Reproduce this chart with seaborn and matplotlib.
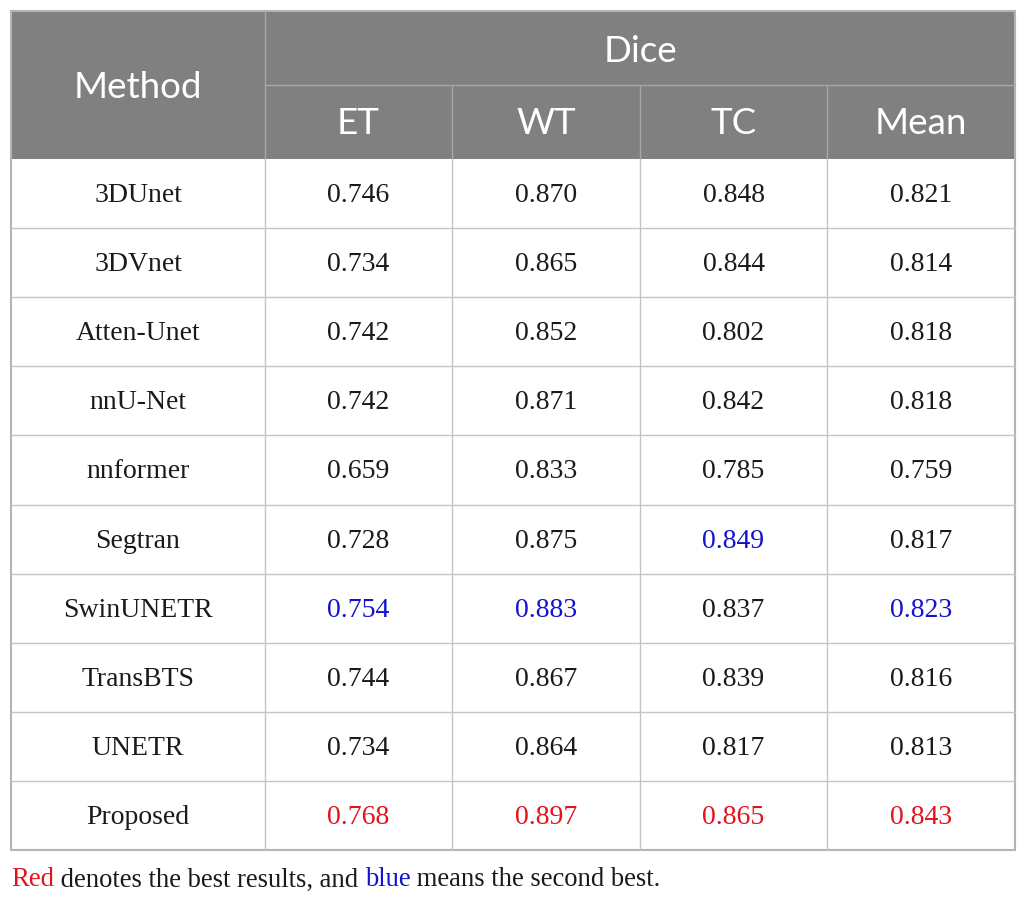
import matplotlib.pyplot as plt
import seaborn as sns
from matplotlib.patches import Rectangle

# table content
methods = ['3DUnet', '3DVnet', 'Atten-Unet', 'nnU-Net', 'nnformer',
           'Segtran', 'SwinUNETR', 'TransBTS', 'UNETR', 'Proposed']
sub_headers = ['ET', 'WT', 'TC', 'Mean']
et = ['0.746', '0.734', '0.742', '0.742', '0.659', '0.728', '0.754', '0.744', '0.734', '0.768']
wt = ['0.870', '0.865', '0.852', '0.871', '0.833', '0.875', '0.883', '0.867', '0.864', '0.897']
tc = ['0.848', '0.844', '0.802', '0.842', '0.785', '0.849', '0.837', '0.839', '0.817', '0.865']
mean = ['0.821', '0.814', '0.818', '0.818', '0.759', '0.817', '0.823', '0.816', '0.813', '0.843']
# 'r' best, 'b' second best, '' plain
marks_et = ['', '', '', '', '', '', 'b', '', '', 'r']
marks_wt = ['', '', '', '', '', '', 'b', '', '', 'r']
marks_tc = ['', '', '', '', '', 'b', '', '', '', 'r']
marks_mean = ['', '', '', '', '', '', 'b', '', '', 'r']

RED = '#e3121b'
BLUE = '#1212d0'
HEAD = '#808080'
GRID = '#c4c4c4'
INK = '#1a1a1a'

sns.set_theme(style='white')
fig = plt.figure(figsize=(10.26, 9.01), dpi=100)
ax = fig.add_axes([0, 0, 1, 1])
ax.set_xlim(0, 1026)
ax.set_ylim(901, 0)
ax.axis('off')

col_edges = [11, 265, 452, 640, 827, 1015]
top, mid, head_bottom = 11, 85, 159
row_h = 69.1
n = len(methods)
bottom = head_bottom + n * row_h

# header block
ax.add_patch(Rectangle((col_edges[0], top), col_edges[-1] - col_edges[0],
                       head_bottom - top, facecolor=HEAD, edgecolor='none'))
ax.plot([col_edges[1], col_edges[-1]], [mid, mid], color='#a8a8a8', lw=1)
ax.plot([col_edges[1], col_edges[1]], [top, head_bottom], color='#a8a8a8', lw=1)
for xe in col_edges[2:-1]:
    ax.plot([xe, xe], [mid, head_bottom], color='#a8a8a8', lw=1)

hfont = dict(family='Lato', color='white', ha='center', va='center', fontsize=26.5)
ax.text((col_edges[0] + col_edges[1]) / 2, (top + head_bottom) / 2 + 2, 'Method', **hfont)
ax.text((col_edges[1] + col_edges[-1]) / 2, (top + mid) / 2 + 3, 'Dice', **hfont)
for i, h in enumerate(sub_headers):
    ax.text((col_edges[i + 1] + col_edges[i + 2]) / 2, (mid + head_bottom) / 2 + 2, h, **hfont)

# body grid
for r in range(1, n):
    y = head_bottom + r * row_h
    ax.plot([col_edges[0], col_edges[-1]], [y, y], color=GRID, lw=1)
for xe in col_edges[1:-1]:
    ax.plot([xe, xe], [head_bottom, bottom], color=GRID, lw=1)
ax.add_patch(Rectangle((col_edges[0], top), col_edges[-1] - col_edges[0], bottom - top,
                       facecolor='none', edgecolor='#b4b4b4', lw=1.5))

cmap = {'r': RED, 'b': BLUE, '': INK}
columns = [(et, marks_et), (wt, marks_wt), (tc, marks_tc), (mean, marks_mean)]
bfont = dict(family='Liberation Serif', ha='center', va='center', fontsize=20)
for r, m in enumerate(methods):
    yc = head_bottom + (r + 0.5) * row_h + 2
    ax.text((col_edges[0] + col_edges[1]) / 2, yc, m, color=INK, **bfont)
    for c, (vals, mk) in enumerate(columns):
        ax.text((col_edges[c + 1] + col_edges[c + 2]) / 2, yc, vals[r],
                color=cmap[mk[r]], **bfont)

# footnote, built piece by piece so the coloured words sit inline
fy = 880
fsize = 19.2
pieces = [('Red', RED), (' denotes the best results, and ', INK),
          ('blue', BLUE), (' means the second best.', INK)]
inv = ax.transData.inverted()
x_data = 11
for txt, col in pieces:
    t = ax.text(x_data, fy, txt, color=col, family='Liberation Serif', fontsize=fsize,
                va='center', ha='left')
    fig.canvas.draw()
    x_data = inv.transform((t.get_window_extent().x1, 0))[0]

fig.savefig('out.png', dpi=100)
